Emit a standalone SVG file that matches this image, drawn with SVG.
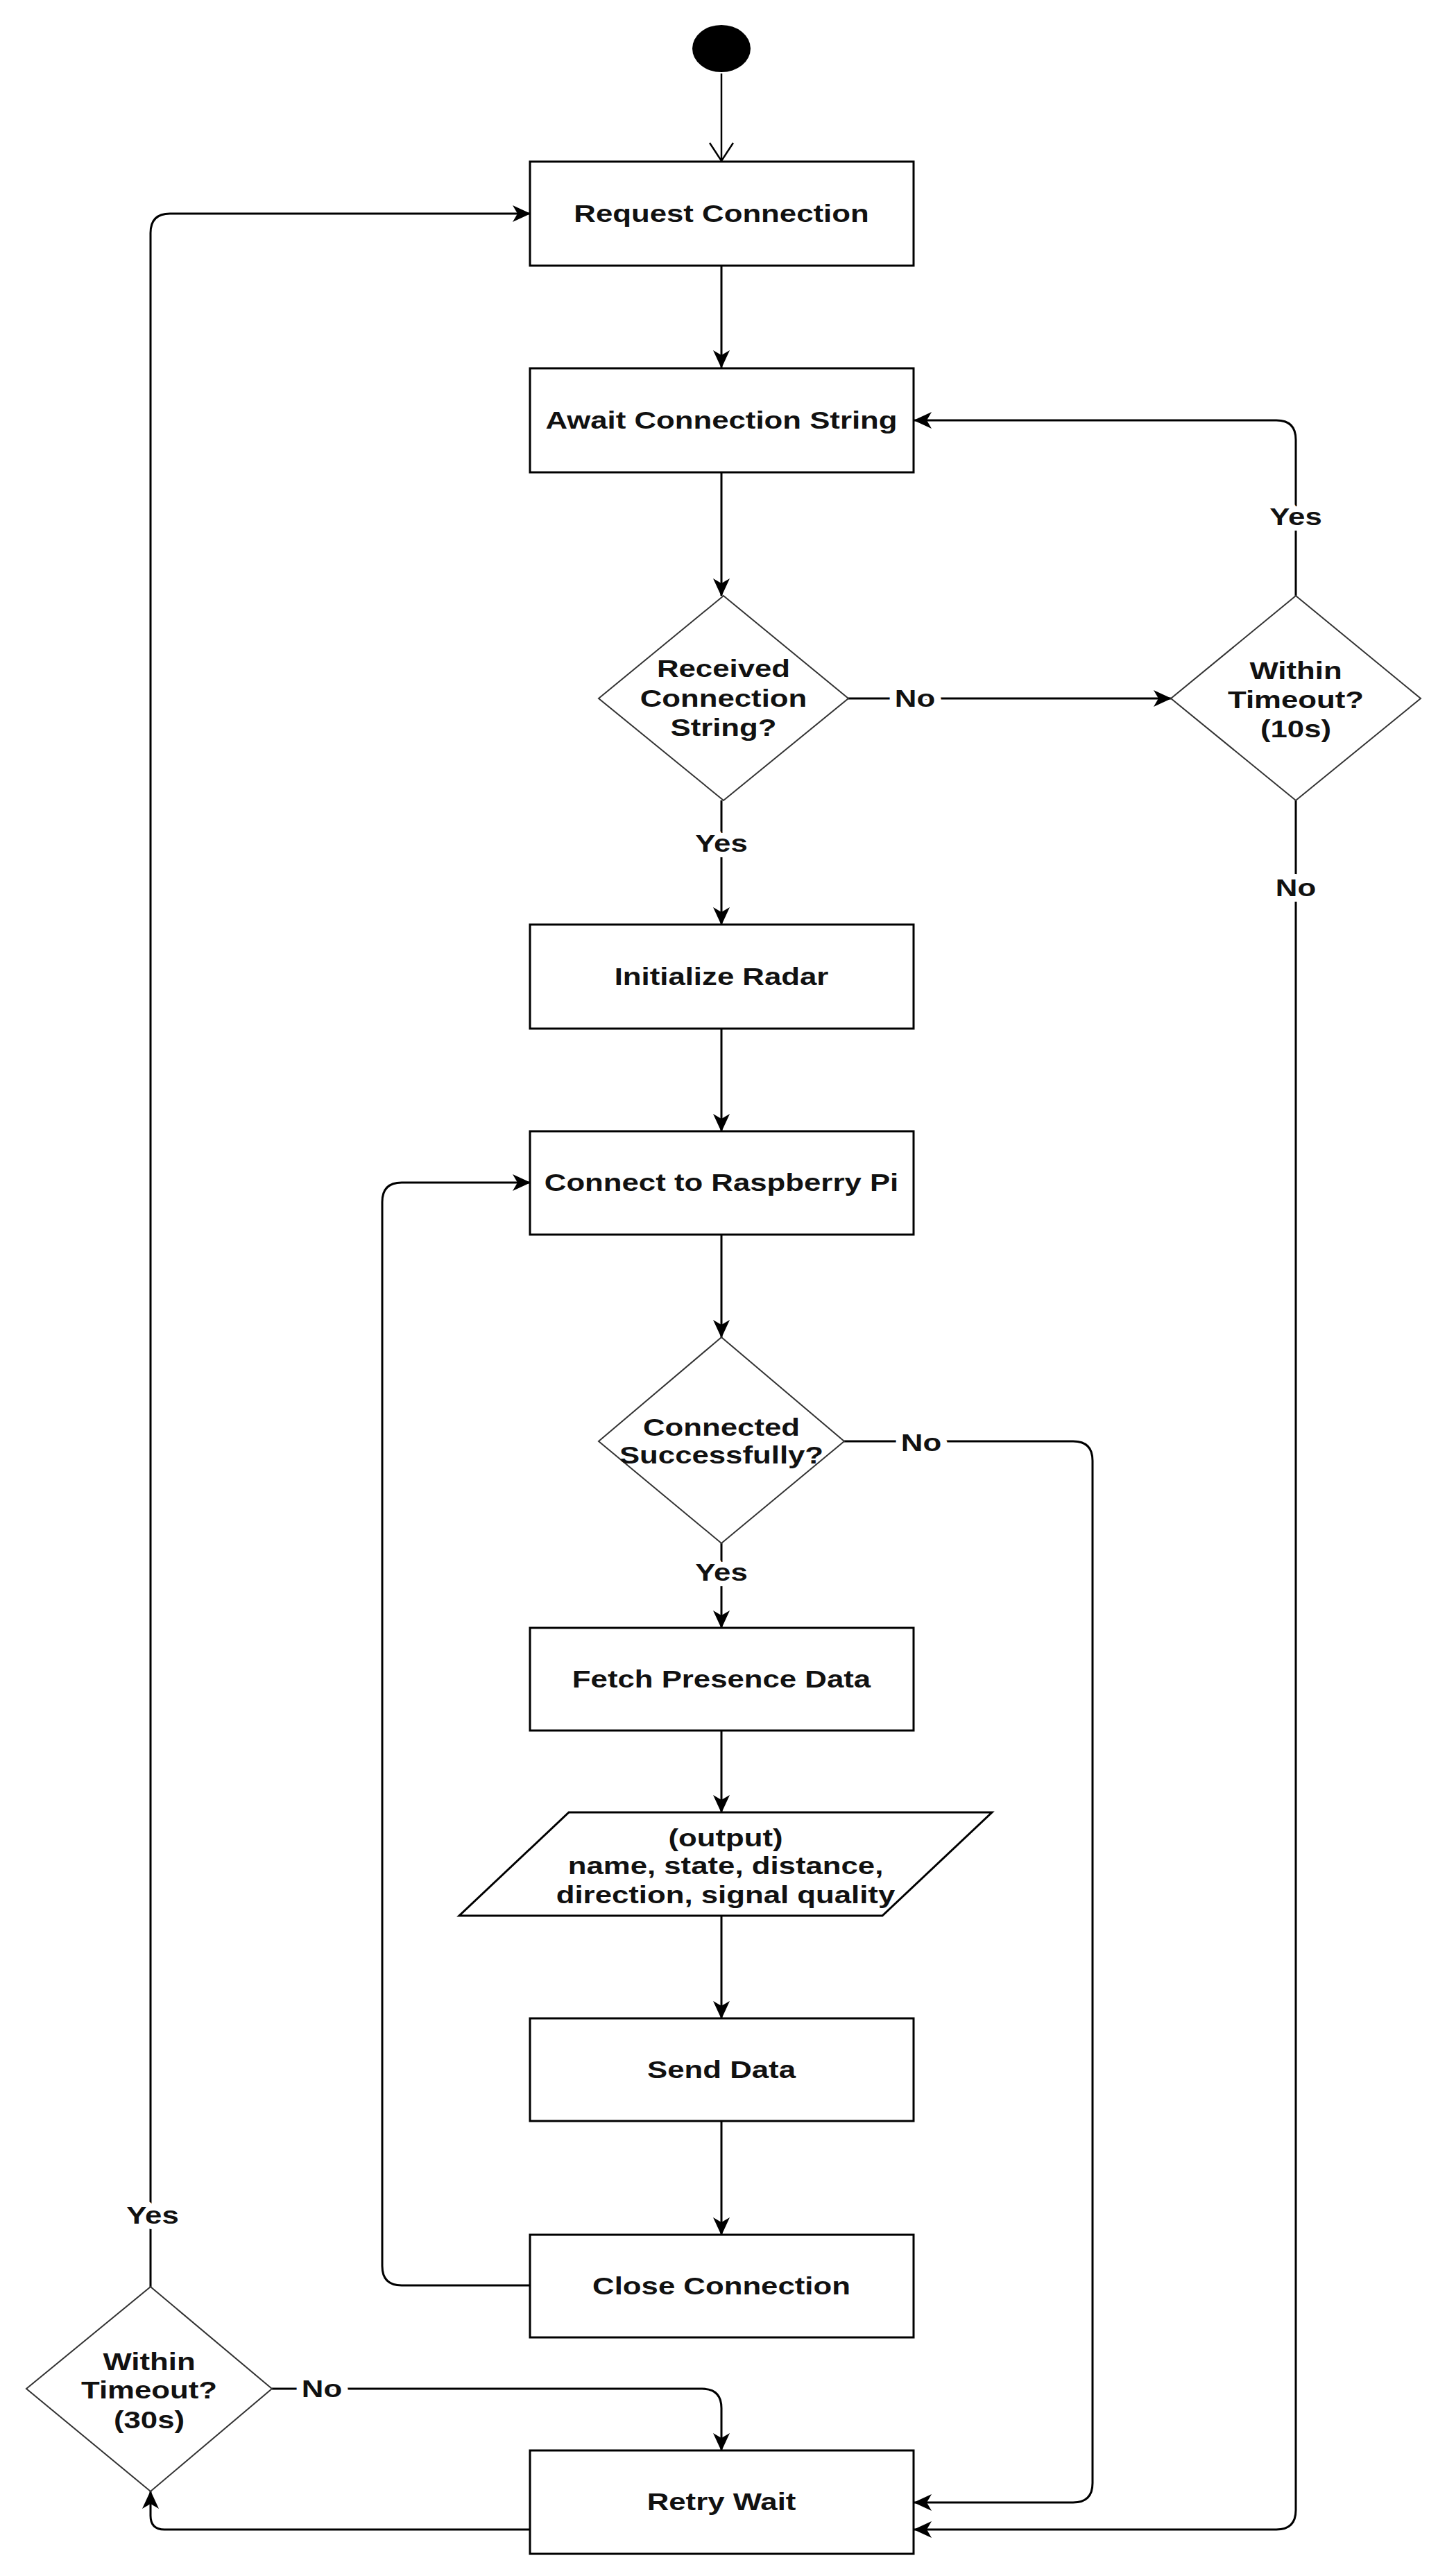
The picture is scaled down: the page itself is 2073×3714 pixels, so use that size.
<svg xmlns="http://www.w3.org/2000/svg" width="2073" height="3714" viewBox="0 0 2073 3714">
<defs>
<marker id="arr" viewBox="0 0 26 24" refX="25" refY="12" markerWidth="26" markerHeight="24" markerUnits="userSpaceOnUse" orient="auto">
<path d="M0,0 L26,12 L0,24 L7,12 Z" fill="#000"/>
</marker>
<marker id="open" viewBox="0 0 30 36" refX="27" refY="18" markerWidth="30" markerHeight="36" markerUnits="userSpaceOnUse" orient="auto">
<path d="M1,1 L27,18 L1,35" fill="none" stroke="#000" stroke-width="2.5"/>
</marker>
<style>
.box{fill:#fff;stroke:#000;stroke-width:3}
.dia{fill:#fff;stroke:#333;stroke-width:2}
.con{fill:none;stroke:#000;stroke-width:3;marker-end:url(#arr)}
.t{font-family:"Liberation Sans",Arial,sans-serif;font-weight:bold;font-size:35px;fill:#111;text-anchor:middle}
.lbl{stroke:#fff;stroke-width:16px;paint-order:stroke fill;stroke-linejoin:round}
</style>
</defs>
<rect width="2073" height="3714" fill="#fff"/>

<g id="connectors">
<path d="M1040 106 V232" fill="none" stroke="#000" stroke-width="2.5" marker-end="url(#open)"/>
<path class="con" d="M1040 383 V530"/>
<path class="con" d="M1040 681 V859"/>
<path class="con" d="M1223 1007 H1688"/>
<path class="con" d="M1868 859 V634 Q1868 606 1840 606 H1318"/>
<path class="con" d="M1868 1154 V3619 Q1868 3647 1840 3647 H1318"/>
<path class="con" d="M1040 1154 V1333"/>
<path class="con" d="M1040 1483 V1631"/>
<path class="con" d="M1040 1780 V1928"/>
<path class="con" d="M1217 2078 H1547 Q1575 2078 1575 2106 V3580 Q1575 3608 1547 3608 H1318"/>
<path class="con" d="M1040 2225 V2347"/>
<path class="con" d="M1040 2495 V2613"/>
<path class="con" d="M1040 2762 V2910"/>
<path class="con" d="M1040 3058 V3222"/>
<path class="con" d="M764 3295 H579 Q551 3295 551 3267 V1733 Q551 1705 579 1705 H764"/>
<path class="con" d="M764 3647 H237 Q217 3647 217 3627 V3592"/>
<path class="con" d="M392 3444 H1012 Q1040 3444 1040 3472 V3533"/>
<path class="con" d="M217 3297 V336 Q217 308 245 308 H764"/>
<text class="t lbl" transform="matrix(1.25 0 0 1 1319 0)" x="0" y="1019">No</text>
<text class="t lbl" transform="matrix(1.25 0 0 1 1868 0)" x="0" y="757">Yes</text>
<text class="t lbl" transform="matrix(1.25 0 0 1 1868 0)" x="0" y="1292">No</text>
<text class="t lbl" transform="matrix(1.25 0 0 1 1040 0)" x="0" y="1228">Yes</text>
<text class="t lbl" transform="matrix(1.25 0 0 1 1328 0)" x="0" y="2092">No</text>
<text class="t lbl" transform="matrix(1.25 0 0 1 1040 0)" x="0" y="2279">Yes</text>
<text class="t lbl" transform="matrix(1.25 0 0 1 464 0)" x="0" y="3456">No</text>
<text class="t lbl" transform="matrix(1.25 0 0 1 220 0)" x="0" y="3206">Yes</text>
</g>

<g id="start"><ellipse cx="1040" cy="70" rx="42" ry="34" fill="#000"/></g>

<g id="request">
<rect class="box" x="764" y="233" width="553" height="150"/>
<text class="t" transform="matrix(1.25 0 0 1 1040 0)" x="0" y="320">Request Connection</text>
</g>

<g id="await">
<rect class="box" x="764" y="531" width="553" height="150"/>
<text class="t" transform="matrix(1.25 0 0 1 1040 0)" x="0" y="618">Await Connection String</text>
</g>

<g id="received">
<polygon class="dia" points="1043,859 1223,1007 1043,1154 863,1007"/>
<text class="t" transform="matrix(1.25 0 0 1 1043 0)"><tspan x="0" y="976">Received</tspan><tspan x="0" y="1019">Connection</tspan><tspan x="0" y="1061">String?</tspan></text>
</g>

<g id="timeout10">
<polygon class="dia" points="1868,859 2048,1007 1868,1154 1688,1007"/>
<text class="t" transform="matrix(1.25 0 0 1 1868 0)"><tspan x="0" y="979">Within</tspan><tspan x="0" y="1021">Timeout?</tspan><tspan x="0" y="1063">(10s)</tspan></text>
</g>

<g id="init">
<rect class="box" x="764" y="1333" width="553" height="150"/>
<text class="t" transform="matrix(1.25 0 0 1 1040 0)" x="0" y="1420">Initialize Radar</text>
</g>

<g id="connectpi">
<rect class="box" x="764" y="1631" width="553" height="149"/>
<text class="t" transform="matrix(1.25 0 0 1 1040 0)" x="0" y="1717">Connect to Raspberry Pi</text>
</g>

<g id="connected">
<polygon class="dia" points="1040,1928 1217,2078 1040,2225 863,2078"/>
<text class="t" transform="matrix(1.25 0 0 1 1040 0)"><tspan x="0" y="2070">Connected</tspan><tspan x="0" y="2110">Successfully?</tspan></text>
</g>

<g id="fetch">
<rect class="box" x="764" y="2347" width="553" height="148"/>
<text class="t" transform="matrix(1.25 0 0 1 1040 0)" x="0" y="2433">Fetch Presence Data</text>
</g>

<g id="output">
<polygon class="box" points="820,2613 1430,2613 1272,2762 662,2762"/>
<text class="t" transform="matrix(1.25 0 0 1 1046 0)"><tspan x="0" y="2662">(output)</tspan><tspan x="0" y="2702">name, state, distance,</tspan><tspan x="0" y="2744">direction, signal quality</tspan></text>
</g>

<g id="send">
<rect class="box" x="764" y="2910" width="553" height="148"/>
<text class="t" transform="matrix(1.25 0 0 1 1040 0)" x="0" y="2996">Send Data</text>
</g>

<g id="close">
<rect class="box" x="764" y="3222" width="553" height="148"/>
<text class="t" transform="matrix(1.25 0 0 1 1040 0)" x="0" y="3308">Close Connection</text>
</g>

<g id="timeout30">
<polygon class="dia" points="217,3297 392,3444 217,3592 38,3444"/>
<text class="t" transform="matrix(1.25 0 0 1 215 0)"><tspan x="0" y="3417">Within</tspan><tspan x="0" y="3458">Timeout?</tspan><tspan x="0" y="3501">(30s)</tspan></text>
</g>

<g id="retry">
<rect class="box" x="764" y="3533" width="553" height="149"/>
<text class="t" transform="matrix(1.25 0 0 1 1040 0)" x="0" y="3619">Retry Wait</text>
</g>
</svg>
